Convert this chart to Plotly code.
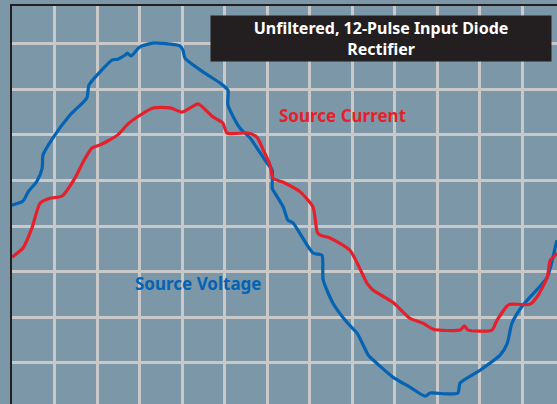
"""
Source voltage and source current of an unfiltered 12-pulse diode rectifier,
drawn on an oscilloscope-style grid.
"""

import plotly.graph_objects as go

# x in horizontal divisions, y in vertical divisions
voltage_x = [0, 0.26, 0.38, 0.59, 0.71, 0.73, 0.96, 1.36, 1.76, 1.81, 2.07, 2.35,
             2.49, 2.66, 2.71, 2.80, 3.01, 3.32, 3.72, 3.95, 4.02, 4.07, 4.49, 4.89,
             5.08, 5.08, 5.36, 5.60, 6.00, 6.12, 6.12, 6.14, 6.38, 6.49, 6.61, 7.08,
             7.29, 7.32, 7.55, 7.88, 8.12, 8.38, 8.42, 8.96, 9.36, 9.72, 9.84, 10.24,
             10.49, 10.54, 11.01, 11.48, 11.65, 11.76, 12.02, 12.59, 12.78, 12.82]
voltage_y = [0.46, 0.55, 0.75, 0.99, 1.27, 1.56, 1.93, 2.43, 2.81, 3.09, 3.38, 3.64,
             3.66, 3.75, 3.79, 3.73, 3.93, 4.01, 3.99, 3.95, 3.86, 3.68, 3.38, 3.14,
             2.98, 2.65, 2.15, 1.93, 1.38, 1.23, 0.83, 0.79, 0.42, 0.13, 0.07, -0.59,
             -0.64, -1.18, -1.69, -2.11, -2.35, -2.83, -2.87, -3.31, -3.53, -3.73, -3.66, -3.68,
             -3.66, -3.44, -3.16, -2.83, -2.57, -2.13, -1.73, -1.12, -0.46, -0.31]

current_x = [0, 0.26, 0.47, 0.66, 0.89, 1.18, 1.48, 1.67, 1.88, 2.07, 2.24, 2.49,
             2.73, 3.01, 3.32, 3.72, 4.00, 4.19, 4.38, 4.73, 4.96, 5.06, 5.55, 5.76,
             5.91, 6.07, 6.14, 6.38, 6.78, 7.08, 7.18, 7.25, 7.48, 7.95, 8.35, 8.49,
             8.96, 9.36, 9.67, 9.91, 10.54, 10.64, 10.73, 11.29, 11.41, 11.67, 11.76, 12.19,
             12.38, 12.59, 12.66, 12.78, 12.82]
current_y = [-0.68, -0.48, -0.04, 0.50, 0.61, 0.66, 1.05, 1.40, 1.71, 1.78, 1.86, 2.00,
             2.24, 2.43, 2.59, 2.59, 2.50, 2.59, 2.68, 2.39, 2.26, 2.04, 2.04, 1.95,
             1.67, 1.34, 1.05, 0.96, 0.75, 0.42, -0.13, -0.20, -0.26, -0.53, -1.25, -1.40,
             -1.67, -2.02, -2.13, -2.26, -2.28, -2.19, -2.28, -2.28, -2.06, -1.73, -1.71, -1.71,
             -1.51, -1.12, -0.75, -0.64, -0.59]

BG = '#7b97a8'
GRID = '#c9c9c9'
FRAME = '#231f20'
BLUE = '#0463b2'
RED = '#e6202b'

fig = go.Figure()

# Source voltage
fig.add_trace(go.Scatter(
    x=voltage_x, y=voltage_y, mode='lines', name='Source Voltage',
    line=dict(color=BLUE, width=3.2, shape='spline', smoothing=0.6)
))

# Source current
fig.add_trace(go.Scatter(
    x=current_x, y=current_y, mode='lines', name='Source Current',
    line=dict(color=RED, width=3.2, shape='spline', smoothing=0.6)
))

fig.update_layout(
    width=557, height=404,
    margin=dict(l=12, r=0, t=6, b=0),
    paper_bgcolor=BG, plot_bgcolor=BG,
    showlegend=False,
    font=dict(family='Noto Sans'),
)

fig.update_xaxes(
    range=[0, 12.82], tick0=0, dtick=1,
    showgrid=True, gridcolor=GRID, gridwidth=3,
    zeroline=False, showticklabels=False, ticks='',
    showline=True, linecolor=FRAME, linewidth=2, mirror=True,
)
fig.update_yaxes(
    range=[-3.90, 4.825], tick0=0, dtick=1,
    showgrid=True, gridcolor=GRID, gridwidth=3,
    zeroline=False, showticklabels=False, ticks='',
    showline=True, linecolor=FRAME, linewidth=2,
)

# Title box
fig.add_annotation(
    x=0.677, y=0.918, xref='paper', yref='paper',
    xanchor='center', yanchor='middle',
    text='<b>Unfiltered, 12-Pulse Input Diode</b><br><b>Rectifier</b>',
    showarrow=False, width=340, height=45,
    bgcolor=FRAME, borderpad=0,
    font=dict(size=16, color='white', family='Noto Sans'),
)

# Trace labels
fig.add_annotation(
    x=0.607, y=0.726, xref='paper', yref='paper',
    xanchor='center', yanchor='middle',
    text='<b>Source Current</b>', showarrow=False,
    font=dict(size=17, color=RED, family='Noto Sans'),
)
fig.add_annotation(
    x=0.343, y=0.302, xref='paper', yref='paper',
    xanchor='center', yanchor='middle',
    text='<b>Source Voltage</b>', showarrow=False,
    font=dict(size=17, color=BLUE, family='Noto Sans'),
)

fig.write_html("out.html", config={'displayModeBar': False},
               post_script="document.body.style.margin='0';")
